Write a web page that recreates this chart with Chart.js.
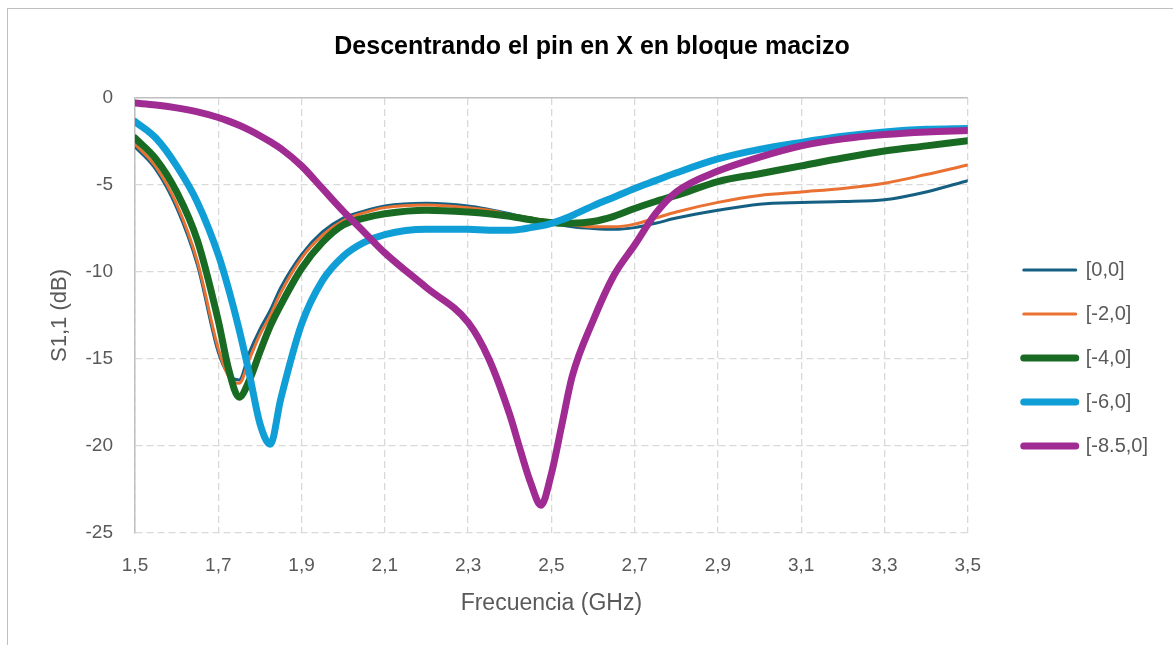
<!DOCTYPE html>
<html>
<head>
<meta charset="utf-8">
<script src="https://cdn.jsdelivr.net/npm/chart.js@4.4.1/dist/chart.umd.min.js"></script>
<style>
  body { margin: 0; background: #fff; }
  #frame { position: absolute; left: 7px; top: 8px; width: 1250px; height: 700px; border: 1px solid #bfbfbf; }
  #s11-chart { position: absolute; left: 0; top: 0; }
</style>
</head>
<body>
<div id="frame"></div>
<canvas id="s11-chart" width="1173" height="645"></canvas>
<script>
const canvasChart = document.querySelector('#s11-chart');

// frequency samples (GHz)
const freq = [1.5, 1.55, 1.6, 1.65, 1.7, 1.725, 1.75, 1.775, 1.8, 1.825, 1.85, 1.9, 1.95, 2.0, 2.05, 2.1, 2.2, 2.3, 2.35, 2.4,
  2.425, 2.45, 2.475, 2.5, 2.525, 2.55, 2.6, 2.65, 2.7, 2.75, 2.8, 2.9, 3.0, 3.1, 3.2, 3.3, 3.4, 3.5];

// S1,1 in dB, one list per pin offset
const s00 = [-2.8, -4.1, -6.3, -9.6, -14.6, -15.9, -16.2, -14.6, -13.3, -12.2, -10.9, -9.0, -7.7, -6.9, -6.5, -6.2, -6.05, -6.2, -6.4, -6.65,
  -6.8, -6.9, -7.0, -7.15, -7.3, -7.4, -7.5, -7.55, -7.45, -7.2, -6.9, -6.45, -6.1, -6.0, -5.95, -5.85, -5.4, -4.75];
const s20 = [-2.65, -3.95, -6.1, -9.4, -14.4, -16.0, -16.4, -15.0, -13.6, -12.5, -11.2, -9.2, -7.9, -7.05, -6.6, -6.3, -6.15, -6.3, -6.45, -6.7,
  -6.8, -6.9, -7.0, -7.1, -7.2, -7.3, -7.4, -7.4, -7.25, -6.9, -6.55, -6.0, -5.6, -5.4, -5.2, -4.9, -4.4, -3.85];
const s40 = [-2.3, -3.5, -5.4, -8.2, -12.8, -15.6, -17.2, -16.2, -14.6, -13.1, -11.9, -9.8, -8.3, -7.3, -6.9, -6.65, -6.45, -6.55, -6.65, -6.8,
  -6.9, -7.0, -7.1, -7.15, -7.2, -7.2, -7.1, -6.8, -6.35, -5.95, -5.6, -4.8, -4.35, -3.9, -3.45, -3.05, -2.75, -2.45];
const s60 = [-1.35, -2.3, -3.9, -6.0, -9.0, -11.0, -13.3, -15.9, -18.7, -19.9, -17.3, -13.0, -10.5, -9.1, -8.3, -7.85, -7.55, -7.55, -7.6, -7.6,
  -7.55, -7.45, -7.35, -7.2, -7.0, -6.75, -6.2, -5.7, -5.2, -4.75, -4.3, -3.5, -2.95, -2.55, -2.2, -1.95, -1.8, -1.75];
const s85 = [-0.29, -0.4, -0.57, -0.8, -1.12, -1.33, -1.57, -1.85, -2.17, -2.52, -2.9, -3.9, -5.2, -6.5, -7.7, -8.9, -10.9, -12.9, -15.0, -18.2,
  -20.2, -22.1, -23.4, -21.6, -18.8, -16.0, -12.8, -10.2, -8.45, -6.65, -5.4, -4.2, -3.4, -2.75, -2.35, -2.1, -1.95, -1.87];

const seriesNames = ['[0,0]', '[-2,0]', '[-4,0]', '[-6,0]', '[-8.5,0]'];
const xTicks = [1.5, 1.7, 1.9, 2.1, 2.3, 2.5, 2.7, 2.9, 3.1, 3.3, 3.5];
const yTicks = [0, -5, -10, -15, -20, -25];

const FONT = "'Liberation Sans', Arial, sans-serif";
const GREY = '#595959';

function points(values) {
  return values.map((v, i) => ({ x: freq[i], y: v }));
}

function series(i, values, color, width) {
  return {
    label: seriesNames[i],
    data: points(values),
    borderColor: color,
    backgroundColor: color,
    borderWidth: width,
    borderJoinStyle: 'round',
    borderCapStyle: 'round',
    pointRadius: 0,
    cubicInterpolationMode: 'monotone',
    order: 5 - i, // later series are painted on top, like the original
  };
}

// nudges the legend and the title to where the original has them
const blockSpot = {
  id: 'blockSpot',
  afterLayout(chart) {
    const lg = chart.legend;
    const dx = 32;
    lg.left += dx;
    lg.right += dx;
    const h = lg.bottom - lg.top;
    lg.top = 236;
    lg.bottom = lg.top + h;

    const tb = chart.titleBlock;
    tb.left += 29;
    tb.right += 29;
  },
};

let config = {
  type: 'line',
  data: {
    datasets: [
      series(0, s00, '#156082', 3),
      series(1, s20, '#E97132', 3),
      series(2, s40, '#196B24', 7),
      series(3, s60, '#0F9ED5', 7),
      series(4, s85, '#A02B93', 7),
    ],
  },
  options: {
    responsive: false,
    animation: false,
    layout: { padding: { left: 0, top: 0, right: 47, bottom: 0 } },
    plugins: {
      title: {
        display: true,
        text: 'Descentrando el pin en X en bloque macizo',
        color: '#000',
        font: { family: FONT, size: 25, weight: 'bold' },
        padding: { top: 32, bottom: 36 },
      },
      legend: {
        position: 'right',
        align: 'start',
        labels: {
          boxWidth: 52,
          boxHeight: 0,
          padding: 24,
          color: GREY,
          font: { family: FONT, size: 20 },
          sort: (a, b) => a.datasetIndex - b.datasetIndex,
        },
      },
      tooltip: { enabled: false },
    },
    scales: {
      x: {
        type: 'linear',
        min: 1.5,
        max: 3.5,
        afterBuildTicks: (scale) => { scale.ticks = xTicks.map((v) => ({ value: v })); },
        afterFit: (scale) => { scale.height = 112; },
        ticks: {
          color: GREY,
          padding: 21,
          maxRotation: 0,
          font: { family: FONT, size: 19 },
          callback: (v) => v.toFixed(1).replace('.', ','),
        },
        grid: { color: '#d9d9d9', lineWidth: 1.3, drawTicks: false },
        border: { display: false, dash: [7, 4] },
        title: {
          display: true,
          text: 'Frecuencia (GHz)',
          color: GREY,
          font: { family: FONT, size: 23 },
          padding: { top: 0, bottom: 28 },
        },
      },
      y: {
        min: -25,
        max: 0,
        afterBuildTicks: (scale) => { scale.ticks = yTicks.map((v) => ({ value: v })); },
        afterFit: (scale) => { scale.width = 135; },
        ticks: {
          color: GREY,
          padding: 22,
          font: { family: FONT, size: 19 },
        },
        grid: {
          drawTicks: false,
          color: (c) => (c.tick && c.tick.value === 0 ? '#bfbfbf' : '#d9d9d9'),
          lineWidth: (c) => (c.tick && c.tick.value === 0 ? 1.5 : 1.3),
        },
        border: {
          display: true,
          color: '#bfbfbf',
          width: 1.5,
          dash: (c) => (c.tick && c.tick.value === 0 ? [] : [7, 4]),
        },
        title: {
          display: true,
          text: 'S1,1 (dB)',
          color: GREY,
          font: { family: FONT, size: 22 },
          padding: { top: 47, bottom: 0 },
        },
      },
    },
  },
  plugins: [blockSpot],
};

let chart = new Chart(canvasChart, config);
</script>
</body>
</html>
